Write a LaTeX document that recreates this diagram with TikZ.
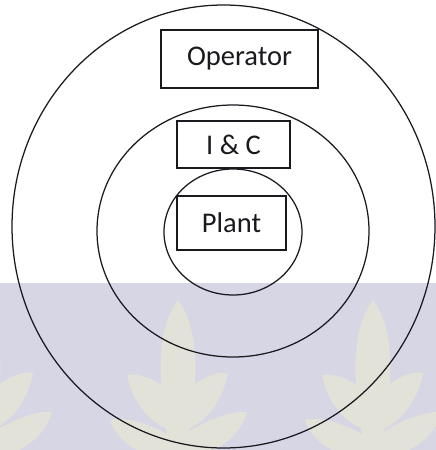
\documentclass[tikz,border=0pt]{standalone}
\usepackage{fontspec}
\setmainfont{Carlito}
\definecolor{band}{RGB}{214,214,229}
\definecolor{leaf}{RGB}{227,226,217}
\definecolor{ink}{RGB}{25,25,30}
\tikzset{
  ring/.style={draw=ink, line width=1.25pt},
  label box/.style={draw=ink, line width=1.3pt, fill=white, inner sep=0pt,
    text=ink, font=\fontsize{28.5}{30}\selectfont},
}
\newcommand{\lotus}[1]{%
  \fill[leaf] (#1,300) .. controls (#1-24,332) and (#1-20,390) .. (#1-7,455) -- (#1+7,455) .. controls (#1+20,390) and (#1+24,332) .. (#1,300);
  \fill[leaf] (#1-51,375) .. controls (#1-35,372) and (#1-12,385) .. (#1-2,398) -- (#1-2,432) .. controls (#1-28,425) and (#1-46,402) .. (#1-51,375);
  \fill[leaf] (#1+50,373) .. controls (#1+34,370) and (#1+12,385) .. (#1+2,398) -- (#1+2,432) .. controls (#1+28,425) and (#1+45,400) .. (#1+50,373);
  \fill[leaf] (#1-68,420) .. controls (#1-50,415) and (#1-18,428) .. (#1-2,440) -- (#1-2,460) .. controls (#1-30,460) and (#1-60,445) .. (#1-68,420);
  \fill[leaf] (#1+69,412) .. controls (#1+50,410) and (#1+18,425) .. (#1+2,438) -- (#1+2,460) .. controls (#1+30,458) and (#1+62,440) .. (#1+69,412);
}
\begin{document}
\begin{tikzpicture}[x=1pt, y=-1pt]
\useasboundingbox (0,0) rectangle (436,450);
\begin{scope}
  \clip (0,0) rectangle (436,450);
  \fill[band] (0,283) rectangle (436,450);
  \lotus{-17}
  \lotus{178}
  \lotus{373}
\end{scope}
% rings
\draw[ring] (223.5,226.5) ellipse [x radius=211.5, y radius=221.5];
\draw[ring] (233,231) ellipse [x radius=136, y radius=126];
\draw[ring] (233,232) ellipse [x radius=69, y radius=63];
% boxes
\node[label box, minimum width=157pt, minimum height=58pt] (operator) at (239.5,59) {Operator};
\node[label box, minimum width=113pt, minimum height=47pt] (ic) at (233.5,144.5) {I \& C};
\node[label box, minimum width=109pt, minimum height=54pt] (plant) at (231.5,223) {Plant};
\end{tikzpicture}
\end{document}
